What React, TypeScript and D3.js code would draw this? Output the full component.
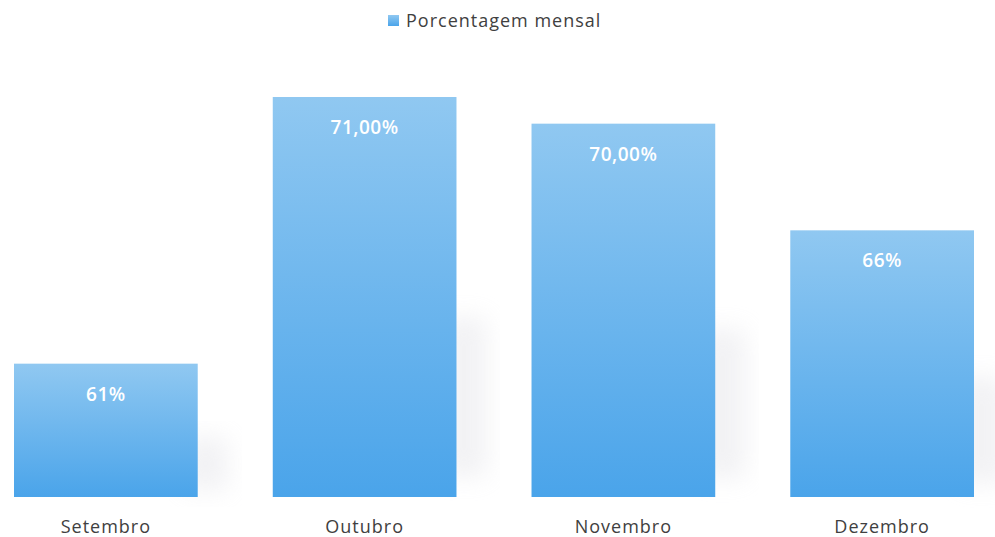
import React, { useEffect, useRef } from 'react';
import * as d3 from 'd3';

const months = ['Setembro', 'Outubro', 'Novembro', 'Dezembro'];
const values = [61, 71, 70, 66];
const valueLabels = ['61%', '71,00%', '70,00%', '66%'];
const legendLabel = 'Porcentagem mensal';

function App() {
  const svgRef = useRef<SVGSVGElement>(null);

  useEffect(() => {
    const width = 995;
    const height = 537;
    const svg = d3.select(svgRef.current);
    svg.selectAll('*').remove();
    svg.attr('width', width).attr('height', height);

    const font = '"Open Sans", Lato, sans-serif';

    const defs = svg.append('defs');
    const grad = defs.append('linearGradient')
      .attr('id', 'barGrad')
      .attr('x1', 0).attr('y1', 0).attr('x2', 0).attr('y2', 1);
    grad.append('stop').attr('offset', '0%').attr('stop-color', '#90c8f1');
    grad.append('stop').attr('offset', '100%').attr('stop-color', '#4aa4ea');

    const shadow = defs.append('filter').attr('id', 'blur')
      .attr('x', '-30%').attr('y', '-30%').attr('width', '160%').attr('height', '160%');
    shadow.append('feGaussianBlur').attr('stdDeviation', 12);

    const x = d3.scaleBand()
      .domain(months)
      .range([14, 974])
      .paddingInner(0.29)
      .paddingOuter(0);

    const y = d3.scaleLinear()
      .domain([56, 72.5])
      .range([497, 57]);

    const data = months.map((m, i) => ({ m, v: values[i], label: valueLabels[i] }));

    // faint shadow to the right of each bar
    svg.append('g').selectAll('rect')
      .data(data)
      .join('rect')
      .attr('x', d => x(d.m)! + x.bandwidth() - 15)
      .attr('y', d => y(d.v) + (y(56) - y(d.v)) * 0.55)
      .attr('width', 45)
      .attr('height', d => (y(56) - y(d.v)) * 0.4)
      .attr('fill', '#d4d4dc')
      .attr('opacity', 0.3)
      .attr('filter', 'url(#blur)');

    svg.append('g').selectAll('rect')
      .data(data)
      .join('rect')
      .attr('x', d => x(d.m)!)
      .attr('y', d => y(d.v))
      .attr('width', x.bandwidth())
      .attr('height', d => y(56) - y(d.v))
      .attr('fill', 'url(#barGrad)');

    svg.append('g').selectAll('text')
      .data(data)
      .join('text')
      .attr('x', d => x(d.m)! + x.bandwidth() / 2)
      .attr('y', d => y(d.v) + 37)
      .attr('text-anchor', 'middle')
      .attr('font-family', font)
      .attr('font-size', 19)
      .attr('font-weight', 600)
      .attr('letter-spacing', 0.5)
      .attr('fill', '#ffffff')
      .text(d => d.label);

    svg.append('g').selectAll('text')
      .data(data)
      .join('text')
      .attr('x', d => x(d.m)! + x.bandwidth() / 2)
      .attr('y', 533)
      .attr('text-anchor', 'middle')
      .attr('font-family', font)
      .attr('font-size', 18)
      .attr('letter-spacing', 1)
      .attr('fill', '#404040')
      .text(d => d.m);

    const legend = svg.append('g');
    legend.append('rect')
      .attr('x', 388).attr('y', 15)
      .attr('width', 11).attr('height', 11)
      .attr('fill', 'url(#barGrad)');
    legend.append('text')
      .attr('x', 406).attr('y', 27)
      .attr('font-family', font)
      .attr('font-size', 18)
      .attr('letter-spacing', 1)
      .attr('fill', '#404040')
      .text(legendLabel);
  }, []);

  return (
    <svg
      ref={svgRef}
      style={{ position: 'absolute', left: 0, top: 0, background: '#ffffff' }}
    />
  );
}

export default App;
